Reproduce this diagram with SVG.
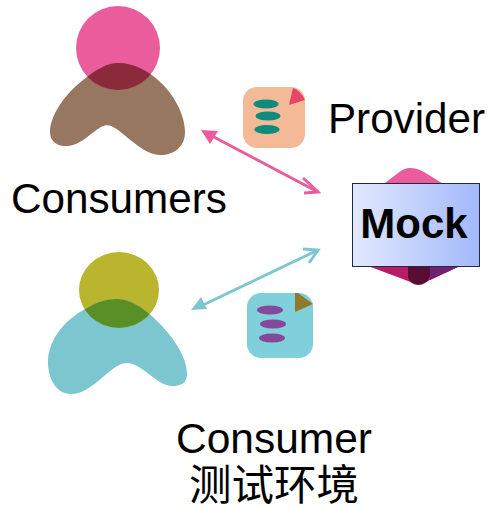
<svg xmlns="http://www.w3.org/2000/svg" width="490" height="508" viewBox="0 0 490 508">
<defs>
<style>
text{font-family:"Liberation Sans","Noto Sans CJK SC",Arial,sans-serif;font-size:42px;fill:#000}
.pink{stroke:#EA5C9B;fill:none;stroke-width:3}
.teal{stroke:#7CC6CF;fill:none;stroke-width:3}
.soft{filter:url(#soft)}
</style>
<filter id="soft" x="-5%" y="-5%" width="110%" height="110%"><feGaussianBlur stdDeviation="0.6"/></filter>
<linearGradient id="mg" x1="0" y1="0" x2="1" y2="0"><stop offset="0" stop-color="#E2E9FE"/><stop offset="1" stop-color="#A2B8FA"/></linearGradient>
<clipPath id="h1"><circle cx="118" cy="48" r="42"/></clipPath>
<clipPath id="h2"><ellipse cx="119" cy="290" rx="40" ry="38"/></clipPath>
<path id="b1" d="M118 63C134 63 148 71 158 80C174 94 185 115 185 132C185 147 174 155 160 155C146 155 131 140 118 130C111 125 107 124 101 127C90 133 80 147 64 146C54 145 50 139 50 132C50 115 66 92 87 77C96 70 107 63 118 63Z"/>
<path id="b2" d="M117 299C130 299 143 308 153 317C169 332 187 354 187 374C187 384 180 386 172 386C158 386 141 363 127 363C111 363 93 394 71 394C56 394 48 378 48 362C48 344 60 322 87 308C97 302 107 299 117 299Z"/>
</defs>
<g id="consumers" class="soft">
<circle cx="118" cy="48" r="42" fill="#EA5C9B"/>
<use href="#b1" fill="#987760"/>
<use href="#b1" fill="#8B2B3A" clip-path="url(#h1)"/>
</g>
<g id="consumer-test" class="soft">
<ellipse cx="119" cy="290" rx="40" ry="38" fill="#B9B52E"/>
<use href="#b2" fill="#7CC6CF"/>
<use href="#b2" fill="#5A8F25" clip-path="url(#h2)"/>
</g>
<g id="provider-doc" class="soft">
<rect x="243" y="87" width="62" height="61" rx="14" fill="#F4BA98"/>
<path d="M293 88Q300 90 305 100L289 105Z" fill="#E64468"/>
<ellipse cx="266" cy="104" rx="12.500" ry="4.500" fill="#0E8C7C"/>
<ellipse cx="268" cy="116" rx="12.500" ry="4.500" fill="#0E8C7C"/>
<ellipse cx="267" cy="129.500" rx="12.500" ry="4.500" fill="#0E8C7C"/>
</g>
<g id="consumer-doc" class="soft">
<rect x="247" y="293" width="66" height="65" rx="14" fill="#7FD0DA"/>
<path d="M295 293L298 293L313 304L295 312Z" fill="#8F7A2C"/>
<ellipse cx="270" cy="310" rx="13" ry="4.500" fill="#85489B"/>
<ellipse cx="273" cy="324" rx="13" ry="4.500" fill="#85489B"/>
<ellipse cx="272" cy="338" rx="13" ry="4.500" fill="#85489B"/>
</g>
<g id="mock">
<g class="soft">
<path d="M410 168Q417 168 424 172L445 185L445 200L385 200L385 183L398 173Q404 168 410 168Z" fill="#EA5C9B"/>
<path d="M368 266L460 266L430 280Q418 287 408 281Z" fill="#B81C62"/>
<path d="M430 266L460 266L430 280Z" fill="#722070"/>
<path d="M408 266L430 266L430 277Q426 285 418 285Q410 284 408 277Z" fill="#5A0A30"/>
</g>
<rect x="352.500" y="183.500" width="127" height="83" fill="url(#mg)" stroke="#1E2A4A" stroke-width="1"/>
<text x="414" y="238" text-anchor="middle" font-weight="700">Mock</text>
</g>
<g id="labels">
<text x="328" y="133" textLength="157" lengthAdjust="spacingAndGlyphs">Provider</text>
<text x="11" y="213" textLength="216" lengthAdjust="spacingAndGlyphs">Consumers</text>
<text x="176" y="453" textLength="196" lengthAdjust="spacingAndGlyphs">Consumer</text>
<text x="274" y="500" text-anchor="middle" style="font-size:42.500px">测试环境</text>
</g>
<g id="connectors">
<path class="pink" d="M212 136L318 192"/>
<path d="M201 130L218 131L210 144Z" fill="#EA5C9B"/>
<path class="pink" d="M303 178Q312 186 318 192L304 193"/>
<path class="teal" d="M201 306L318 250"/>
<path d="M191 310L201 297L207 309Z" fill="#7CC6CF"/>
<path class="teal" d="M303 249L318 250L309 263"/>
</g>
</svg>
